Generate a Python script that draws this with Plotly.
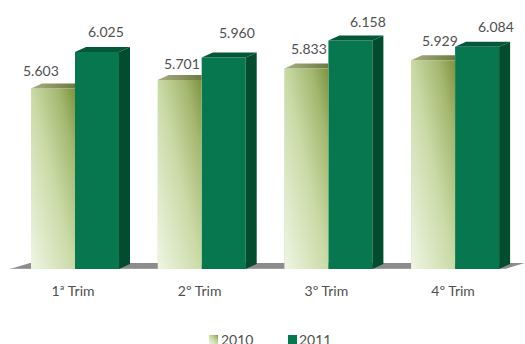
import base64
import plotly.graph_objects as go

categories = ["1ª Trim", "2º Trim", "3º Trim", "4º Trim"]
series_names = ["2010", "2011"]
values_2010 = [5603, 5701, 5833, 5929]
values_2011 = [6025, 5960, 6158, 6084]
labels_2010 = ["5.603", "5.701", "5.833", "5.929"]
labels_2011 = ["6.025", "5.960", "6.158", "6.084"]

# Pixel offsets of the value labels relative to the top-centre of their bars
label_dx_2010 = [-12, 2, 3, 7]
label_dy_2010 = [18, 17, 20, 20]
label_dx_2011 = [9, 13, 18, 19]
label_dy_2011 = [20, 25, 19, 20]

WIDTH, HEIGHT = 525, 344
M_BOTTOM = 75
PX_PER_CAT = 126.7
PX_PER_UNIT = 0.0865
X0_PX = 75.0
Y_MIN = 3516
Y_MAX = Y_MIN + (HEIGHT - M_BOTTOM) / PX_PER_UNIT

BAR_W = 44 / PX_PER_CAT
DEPTH_X = 11 / PX_PER_CAT
DEPTH_Y = 5 / PX_PER_UNIT
LABEL_SHIFT = -0.016

FRONT_2011 = "#07774f"
SIDE_2011 = "#024d2f"
ROOF_2011 = "#03583a"
TEXT = "#505050"


def gradient_uri(stops):
    """Bottom-left to top-right linear gradient as an inline SVG."""
    stop_tags = "".join(f'<stop offset="{o}" stop-color="{c}"/>' for o, c in stops)
    svg = (
        '<svg xmlns="http://www.w3.org/2000/svg" viewBox="0 0 100 100" preserveAspectRatio="none">'
        f'<defs><linearGradient id="g" x1="0" y1="1" x2="1" y2="0">{stop_tags}</linearGradient></defs>'
        '<rect width="100" height="100" fill="url(#g)"/></svg>'
    )
    return "data:image/svg+xml;base64," + base64.b64encode(svg.encode()).decode()


OLIVE = gradient_uri([(0, "#f0f5e4"), (0.5, "#c9daa6"), (0.8, "#a4b870"), (1, "#7f9240")])

xs = list(range(len(categories)))
fig = go.Figure()

fig.add_bar(x=xs, y=values_2010, name=series_names[0], marker_color="#c9daa6", marker_line_width=0)
fig.add_bar(x=xs, y=values_2011, name=series_names[1], marker_color=FRONT_2011, marker_line_width=0)


def polygon(px, py, color=None, gradient=None):
    trace = dict(x=px + px[:1], y=py + py[:1], mode="lines", line_width=0, fill="toself",
                 hoverinfo="skip", showlegend=False)
    if gradient:
        trace["fillgradient"] = gradient
    else:
        trace["fillcolor"] = color
    fig.add_scatter(**trace)


roof_gradient = dict(type="horizontal", colorscale=[[0, "#a9b084"], [1, "#6c7a3e"]])

for x, v10, v11 in zip(xs, values_2010, values_2011):
    # 2010: only the roof shows, the side is hidden by the neighbouring bar
    left = x - BAR_W
    polygon([left, left + DEPTH_X, x, x], [v10, v10 + DEPTH_Y, v10 + DEPTH_Y, v10],
            gradient=roof_gradient)
    # 2011: roof and side face
    right = x + BAR_W
    polygon([x, x + DEPTH_X, right + DEPTH_X, right],
            [v11, v11 + DEPTH_Y, v11 + DEPTH_Y, v11], color=ROOF_2011)
    polygon([right, right + DEPTH_X, right + DEPTH_X, right],
            [v11, v11 + DEPTH_Y, Y_MIN + DEPTH_Y, Y_MIN], color=SIDE_2011)

images = [
    dict(source=OLIVE, xref="x", yref="y", x=x - BAR_W, y=v, sizex=BAR_W, sizey=v - Y_MIN,
         xanchor="left", yanchor="top", sizing="stretch", layer="above")
    for x, v in zip(xs, values_2010)
]

annotations = []
for x, v, t, dx, dy in zip(xs, values_2010, labels_2010, label_dx_2010, label_dy_2010):
    annotations.append(dict(x=x - BAR_W / 2, y=v, text=t, showarrow=False, xshift=dx, yshift=dy))
for x, v, t, dx, dy in zip(xs, values_2011, labels_2011, label_dx_2011, label_dy_2011):
    annotations.append(dict(x=x + BAR_W / 2, y=v, text=t, showarrow=False, xshift=dx, yshift=dy))


# Legend row sits below the tick labels
def paper_x(px):
    return px / WIDTH


def paper_y(py):
    return (HEIGHT - M_BOTTOM - py) / (HEIGHT - M_BOTTOM)


shapes = [
    # Grey floor of the 3D chart
    dict(type="path", layer="below", xref="x", yref="y", line_width=0, fillcolor="#8c8c8c",
         path=f"M -0.513 {Y_MIN} L -0.355 {Y_MIN + DEPTH_Y * 1.2} L 3.55 {Y_MIN + DEPTH_Y * 1.2} "
              f"L 3.394 {Y_MIN} Z"),
    dict(type="line", layer="below", xref="x", yref="y", x0=-0.513, x1=3.394, y0=Y_MIN, y1=Y_MIN,
         line=dict(color="#b5b5b5", width=1)),
    dict(type="rect", xref="paper", yref="paper", line_width=0, fillcolor=FRONT_2011,
         x0=paper_x(288), x1=paper_x(297), y0=paper_y(344), y1=paper_y(335)),
]
images.append(dict(source=OLIVE, xref="paper", yref="paper", x=paper_x(209), y=paper_y(335),
                   sizex=9 / WIDTH, sizey=9 / (HEIGHT - M_BOTTOM),
                   xanchor="left", yanchor="top", sizing="stretch", layer="above"))
for name, px in zip(series_names, [219, 297]):
    annotations.append(dict(xref="paper", yref="paper", x=paper_x(px), y=paper_y(339), text=name,
                            showarrow=False, xanchor="left", yanchor="middle"))

fig.update_layout(
    width=WIDTH,
    height=HEIGHT,
    margin=dict(l=0, r=0, t=0, b=M_BOTTOM, pad=0),
    paper_bgcolor="white",
    plot_bgcolor="white",
    barmode="group",
    bargap=1 - 2 * BAR_W,
    bargroupgap=0,
    showlegend=False,
    font=dict(family="Lato, Carlito, sans-serif", size=14, color=TEXT),
    images=images,
    shapes=shapes,
    annotations=annotations,
    xaxis=dict(
        range=[-X0_PX / PX_PER_CAT, (WIDTH - X0_PX) / PX_PER_CAT],
        tickmode="array",
        tickvals=[x + LABEL_SHIFT for x in xs],
        ticktext=categories,
        ticks="outside",
        ticklen=9,
        tickcolor="rgba(0,0,0,0)",
        showgrid=False,
        zeroline=False,
        showline=False,
        automargin=False,
    ),
    yaxis=dict(range=[Y_MIN, Y_MAX], visible=False, automargin=False),
)

fig.write_html("out.html", config={"displayModeBar": False})
